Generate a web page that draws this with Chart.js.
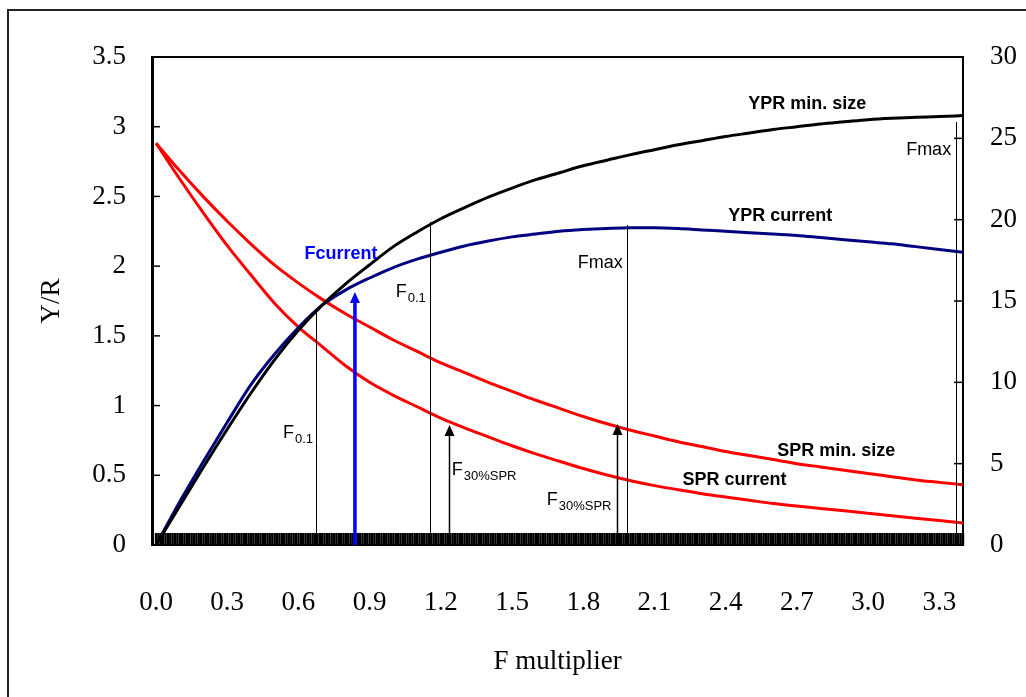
<!DOCTYPE html>
<html>
<head>
<meta charset="utf-8">
<script src="https://cdn.jsdelivr.net/npm/chart.js@4/dist/chart.umd.min.js"></script>
<style>
  body { margin: 0; background: #fff; overflow: hidden; }
  #frame { position: absolute; left: 7px; top: 9px; width: 1100px; height: 800px; border: 2px solid #222; }
  #chart1 { position: absolute; left: 0; top: 0; }
</style>
</head>
<body>
<div id="frame"></div>
<canvas id="chart1" width="1026" height="697"></canvas>
<script>
// F multiplier and the four curves (YPR on left axis, SPR on right axis)
const fValues = [0, 0.1, 0.2, 0.3, 0.4, 0.5, 0.6, 0.7, 0.8, 0.9, 1.0, 1.1, 1.2, 1.3, 1.4, 1.5, 1.6, 1.7,
  1.8, 1.9, 2.0, 2.1, 2.2, 2.3, 2.4, 2.5, 2.6, 2.7, 2.8, 2.9, 3.0, 3.1, 3.2, 3.3, 3.4];
const yprMinSize = [0, 0.28, 0.56, 0.83, 1.09, 1.33, 1.54, 1.72, 1.875, 2.01, 2.14, 2.245, 2.34, 2.42,
  2.495, 2.56, 2.62, 2.67, 2.72, 2.76, 2.80, 2.835, 2.87, 2.90, 2.93, 2.955, 2.98, 3.0, 3.02, 3.035, 3.05,
  3.06, 3.067, 3.073, 3.08];
const yprCurrent = [0, 0.31, 0.6, 0.88, 1.15, 1.37, 1.56, 1.72, 1.83, 1.915, 1.99, 2.05, 2.10, 2.145, 2.18,
  2.21, 2.23, 2.25, 2.262, 2.27, 2.275, 2.275, 2.27, 2.26, 2.25, 2.24, 2.23, 2.22, 2.205, 2.19, 2.175, 2.16,
  2.14, 2.12, 2.10];
const sprMinSize = [24.7, 23.0, 21.4, 19.9, 18.5, 17.2, 16.1, 15.1, 14.2, 13.4, 12.6, 11.9, 11.2, 10.6,
  10.0, 9.45, 8.9, 8.4, 7.9, 7.45, 7.05, 6.7, 6.35, 6.05, 5.75, 5.5, 5.25, 5.0, 4.8, 4.6, 4.4, 4.2, 4.0,
  3.85, 3.7];
const sprCurrent = [24.7, 22.5, 20.4, 18.4, 16.6, 14.85, 13.4, 12.2, 11.0, 10.0, 9.2, 8.5, 7.8, 7.2, 6.65,
  6.1, 5.6, 5.15, 4.7, 4.3, 3.95, 3.65, 3.4, 3.15, 2.95, 2.75, 2.55, 2.4, 2.25, 2.1, 1.95, 1.8, 1.65, 1.5,
  1.35];

// tick labels
const xTicks = [0, 0.3, 0.6, 0.9, 1.2, 1.5, 1.8, 2.1, 2.4, 2.7, 3.0, 3.3];

// reference points: F value and top (Y/R units)
const refLineF = [0.675, 1.153, 1.985, 3.371];
const refLineTop = [1.67, 2.317, 2.295, 3.034];
const arrowF = [1.233, 1.944];
const arrowTop = [0.861, 0.868];
const fCurrent = 0.838;
const fCurrentTop = 1.815;

// category grid of the x axis (one tick every 0.01)
const fGrid = [];
for (let i = 0; i <= 340; i++) fGrid.push(i / 100);

// text labels, positions in data units (F, Y/R)
const labels = [
  {text: 'YPR min. size', f: 2.744, v: 3.163, bold: true},
  {text: 'YPR current', f: 2.63, v: 2.36, bold: true},
  {text: 'SPR min. size', f: 2.866, v: 0.674, bold: true},
  {text: 'SPR current', f: 2.437, v: 0.466, bold: true},
  {text: 'Fcurrent', f: 0.779, v: 2.087, bold: true, color: '#0000ff'},
  {text: 'F', sub: '0.1', f: 0.535, v: 0.803},
  {text: 'F', sub: '0.1', f: 1.010, v: 1.815},
  {text: 'F', sub: '30%SPR', f: 1.246, v: 0.538},
  {text: 'F', sub: '30%SPR', f: 1.646, v: 0.323},
  {text: 'Fmax', f: 1.966, v: 2.023, align: 'right'},
  {text: 'Fmax', f: 3.350, v: 2.833, align: 'right'}
];

function pts(ys) {
  return fValues.map(function(f, i) { return {x: f, y: ys[i]}; });
}

const SANS = '"Liberation Sans", Arial, sans-serif';
const SERIF = '"Liberation Serif", "Times New Roman", serif';

function line(ctx, x1, y1, x2, y2) {
  ctx.beginPath(); ctx.moveTo(x1, y1); ctx.lineTo(x2, y2); ctx.stroke();
}

function arrow(ctx, px, y0, yTip, color, w) {
  ctx.strokeStyle = color; ctx.fillStyle = color; ctx.lineWidth = w;
  line(ctx, px, y0, px, yTip + 8);
  ctx.beginPath();
  ctx.moveTo(px, yTip); ctx.lineTo(px - 5, yTip + 11); ctx.lineTo(px + 5, yTip + 11);
  ctx.closePath(); ctx.fill();
}

const extras = {
  id: 'extras',
  afterDatasetsDraw(chart) {
    const ctx = chart.ctx;
    const x = chart.scales.x, y = chart.scales.y, y2 = chart.scales.y2;
    const area = chart.chartArea;
    const y0 = y.getPixelForValue(0);
    ctx.save();
    // top border of plot
    ctx.strokeStyle = '#000'; ctx.lineWidth = 2;
    line(ctx, area.left, area.top, area.right, area.top);
    // inner ticks
    ctx.lineWidth = 1.5;
    y.ticks.forEach(function(t) {
      const py = y.getPixelForValue(t.value);
      line(ctx, area.left, py, area.left + 8, py);
    });
    y2.ticks.forEach(function(t) {
      const py = y2.getPixelForValue(t.value);
      line(ctx, area.right, py, area.right - 9, py);
    });
    // dense category ticks along the x axis
    ctx.lineWidth = 2.4;
    fGrid.forEach(function(f) {
      const px = x.getPixelForValue(f);
      line(ctx, px, y0 + 1, px, y0 - 12);
    });
    // reference lines
    ctx.lineWidth = 1;
    refLineF.forEach(function(f, i) {
      const px = Math.round(x.getPixelForValue(f)) + 0.5;
      line(ctx, px, y0, px, y.getPixelForValue(refLineTop[i]));
    });
    arrowF.forEach(function(f, i) {
      arrow(ctx, Math.round(x.getPixelForValue(f)) + 0.5, y0, y.getPixelForValue(arrowTop[i]), '#000', 1.5);
    });
    arrow(ctx, x.getPixelForValue(fCurrent), y0, y.getPixelForValue(fCurrentTop), '#0000ff', 3.5);
    // text
    ctx.textBaseline = 'middle';
    labels.forEach(function(lab) {
      const px = x.getPixelForValue(lab.f), py = y.getPixelForValue(lab.v);
      ctx.fillStyle = lab.color || '#000';
      ctx.font = (lab.bold ? 'bold ' : '') + '18px ' + SANS;
      if (lab.sub) {
        ctx.textAlign = 'left';
        ctx.fillText(lab.text, px, py);
        const w = ctx.measureText(lab.text).width;
        ctx.font = '13px ' + SANS;
        ctx.fillText(lab.sub, px + w + 1, py + 6);
      } else {
        ctx.textAlign = lab.align || 'center';
        ctx.fillText(lab.text, px, py);
      }
    });
    ctx.restore();
  }
};

const ctx = document.getElementById('chart1').getContext('2d');
const myChart = new Chart(ctx, {
  type: 'line',
  data: {
    datasets: [
      {label: 'YPR min. size', data: pts(yprMinSize), yAxisID: 'y', borderColor: '#000000', borderWidth: 3},
      {label: 'YPR current', data: pts(yprCurrent), yAxisID: 'y', borderColor: '#000080', borderWidth: 3},
      {label: 'SPR min. size', data: pts(sprMinSize), yAxisID: 'y2', borderColor: '#ff0000', borderWidth: 3},
      {label: 'SPR current', data: pts(sprCurrent), yAxisID: 'y2', borderColor: '#ff0000', borderWidth: 3}
    ]
  },
  options: {
    responsive: false,
    animation: false,
    events: [],
    elements: { point: { radius: 0 }, line: { cubicInterpolationMode: 'monotone' } },
    layout: { padding: { top: 57, left: 0, right: 0, bottom: 0 } },
    plugins: { legend: { display: false }, tooltip: { enabled: false } },
    scales: {
      x: {
        type: 'linear', min: -0.017, max: 3.4,
        afterBuildTicks: function(scale) { scale.ticks = xTicks.map(function(v) { return {value: v}; }); },
        afterFit: function(scale) { scale.height = 152; },
        grid: { display: false, drawTicks: false },
        border: { display: true, color: '#000', width: 2 },
        ticks: {
          autoSkip: false, maxRotation: 0, padding: 42, color: '#000',
          font: { family: SERIF, size: 27 },
          callback: function(v) { return Number(v).toFixed(1); }
        },
        title: { display: true, text: 'F multiplier', color: '#000', font: { family: SERIF, size: 27 }, padding: { top: 0, bottom: 19 } }
      },
      y: {
        position: 'left', min: 0, max: 3.5,
        afterFit: function(scale) { scale.width = 152; },
        grid: { display: false, drawTicks: false },
        border: { display: true, color: '#000', width: 3 },
        ticks: {
          stepSize: 0.5, padding: 26, color: '#000', font: { family: SERIF, size: 27 },
          callback: function(v) { return String(Number(v)); }
        },
        title: { display: true, text: 'Y/R', color: '#000', font: { family: SERIF, size: 27 }, padding: { top: 36, bottom: 0 } }
      },
      y2: {
        position: 'right', min: 0, max: 30,
        afterFit: function(scale) { scale.width = 63; },
        grid: { display: false, drawTicks: false },
        border: { display: true, color: '#000', width: 2 },
        ticks: { stepSize: 5, padding: 27, color: '#000', font: { family: SERIF, size: 27 } }
      }
    }
  },
  plugins: [extras]
});
</script>
</body>
</html>
